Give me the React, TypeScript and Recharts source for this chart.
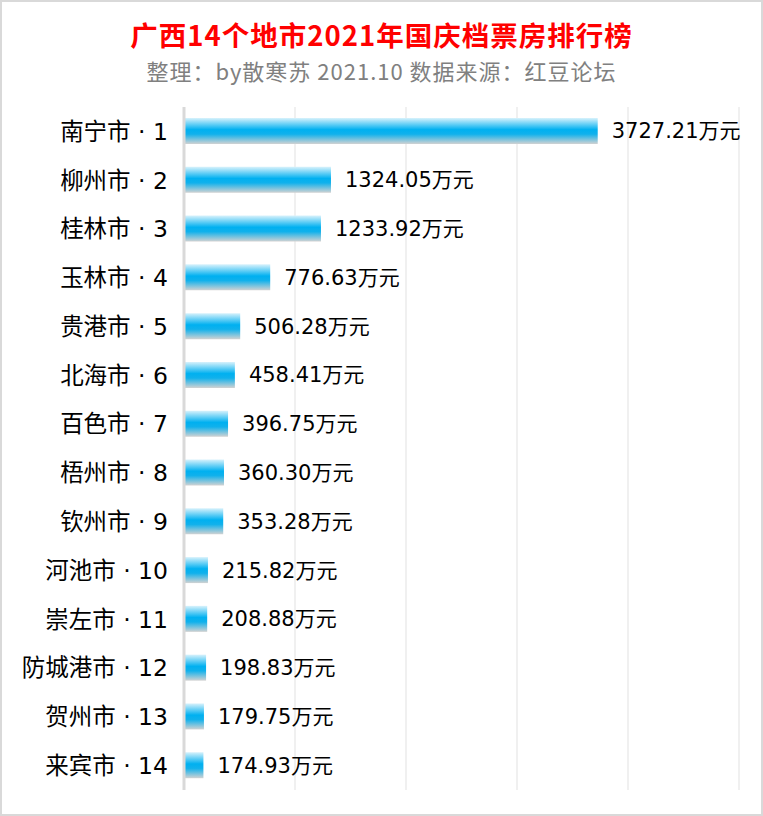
import { BarChart, Bar, XAxis, YAxis, CartesianGrid, LabelList } from "recharts";

const cities = [
  "南宁市",
  "柳州市",
  "桂林市",
  "玉林市",
  "贵港市",
  "北海市",
  "百色市",
  "梧州市",
  "钦州市",
  "河池市",
  "崇左市",
  "防城港市",
  "贺州市",
  "来宾市",
];
const boxOffice = [
  3727.21, 1324.05, 1233.92, 776.63, 506.28, 458.41, 396.75, 360.3, 353.28, 215.82, 208.88, 198.83,
  179.75, 174.93,
];
const xTicks = [0, 1000, 2000, 3000, 4000, 5000];

const data = cities.map((c, i) => ({ label: `${c} · ${i + 1}`, value: boxOffice[i] }));

const font = '"Noto Sans CJK SC", "Noto Sans", sans-serif';
const mixFont = '"DejaVu Sans", "Noto Sans CJK SC", sans-serif';

export default function App() {
  return (
    <div style={{ position: "absolute", left: 0, top: 0, width: 763, height: 816, background: "#fff", fontFamily: font }}>
      <div
        style={{
          position: "absolute",
          left: 0,
          top: 18.5,
          width: 763,
          textAlign: "center",
          color: "#ff0000",
          fontWeight: 700,
          fontSize: 27.5,
          letterSpacing: 1,
          lineHeight: "30px",
        }}
      >
        广西14个地市2021年国庆档票房排行榜
      </div>
      <div
        style={{
          position: "absolute",
          left: 0,
          top: 56.5,
          width: 763,
          textAlign: "center",
          color: "#808080",
          fontSize: 22,
          letterSpacing: 1,
          lineHeight: "26px",
        }}
      >
        整理：by散寒苏 2021.10 数据来源：红豆论坛
      </div>
      <div style={{ position: "absolute", left: 0, top: 0 }}>
        <BarChart
          width={763}
          height={816}
          data={data}
          layout="vertical"
          margin={{ top: 107, right: 24, bottom: 26, left: 0 }}
        >
          <defs>
            <linearGradient id="barFill" x1="0" y1="0" x2="0" y2="1">
              <stop offset="0%" stopColor="#d8f2fc" />
              <stop offset="45%" stopColor="#00b0f0" />
              <stop offset="62%" stopColor="#10b1ec" />
              <stop offset="100%" stopColor="#d2d2d2" />
            </linearGradient>
          </defs>
          <CartesianGrid horizontal={false} stroke="#f0f0f0" strokeWidth={2} />
          <XAxis type="number" hide domain={[0, 5000]} ticks={xTicks} />
          <YAxis
            type="category"
            dataKey="label"
            width={184}
            tickLine={false}
            tickSize={0}
            tickMargin={16}
            axisLine={{ stroke: "#d9d9d9", strokeWidth: 3 }}
            tick={{ fontSize: 23.5, fill: "#000", fontFamily: mixFont }}
          />
          <Bar dataKey="value" fill="url(#barFill)" barSize={26} isAnimationActive={false}>
            <LabelList
              dataKey="value"
              position="right"
              offset={14}
              formatter={(v: number) => `${v.toFixed(2)}万元`}
              style={{ fontSize: 21, fill: "#000", fontFamily: mixFont }}
            />
          </Bar>
        </BarChart>
      </div>
      <div
        style={{
          position: "absolute",
          left: 0,
          top: 0,
          width: 763,
          height: 816,
          boxSizing: "border-box",
          border: "2px solid #d9d9d9",
          pointerEvents: "none",
        }}
      />
    </div>
  );
}
